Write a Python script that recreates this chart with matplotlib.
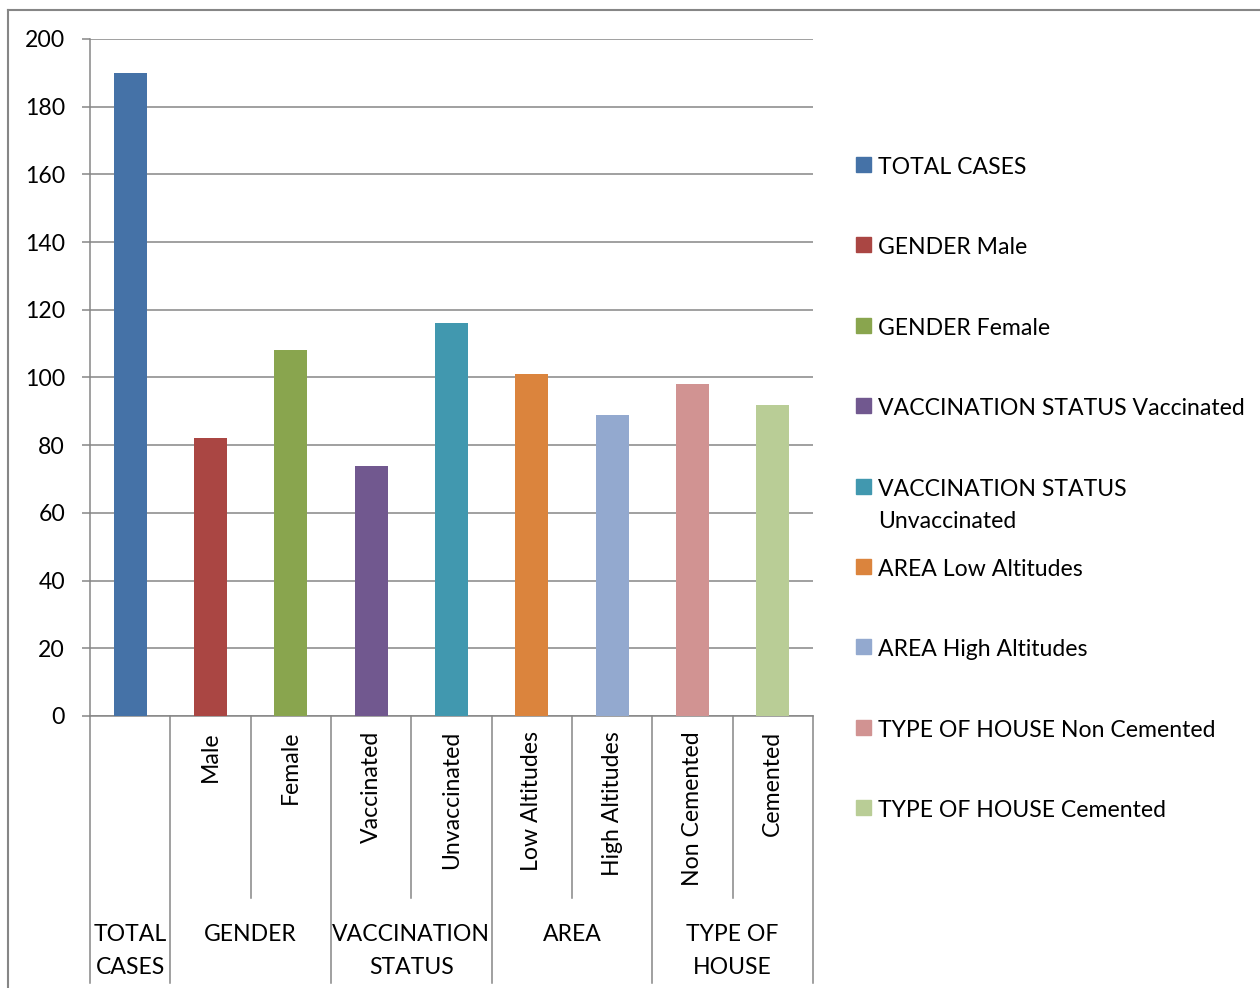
import matplotlib
matplotlib.use("Agg")
import matplotlib.pyplot as plt
from matplotlib.patches import Rectangle
from matplotlib.lines import Line2D

plt.rcParams['font.family'] = ['Lato', 'DejaVu Sans']

# data
groups = ['TOTAL\nCASES', 'GENDER', 'VACCINATION\nSTATUS', 'AREA', 'TYPE OF\nHOUSE']
group_sizes = [1, 2, 2, 2, 2]
subcats = ['', 'Male', 'Female', 'Vaccinated', 'Unvaccinated',
           'Low Altitudes', 'High Altitudes', 'Non Cemented', 'Cemented']
values = [190, 82, 108, 74, 116, 101, 89, 98, 92]
series_names = ['TOTAL CASES', 'GENDER Male', 'GENDER Female',
                'VACCINATION STATUS Vaccinated', 'VACCINATION STATUS\nUnvaccinated',
                'AREA Low Altitudes', 'AREA High Altitudes',
                'TYPE OF HOUSE Non Cemented', 'TYPE OF HOUSE Cemented']
colors = ['#4572A7', '#AA4643', '#89A54E', '#71588F', '#4198AF',
          '#DB843D', '#93A9CF', '#D19392', '#B9CD96']

W, H = 1260, 988
gray = '#868686'
fs = 16.6
ls = 1.7

fig = plt.figure(figsize=(W / 100, H / 100), dpi=100)
ax = fig.add_axes([90 / W, 1 - 716 / H, (813 - 90) / W, (716 - 39) / H])

for i, v in enumerate(values):
    ax.bar(i + 0.5, v, width=0.41, color=colors[i], zorder=3)

ax.set_xlim(0, len(values))
ax.set_ylim(0, 200)
ax.set_yticks(range(0, 201, 20))
ax.grid(axis='y', color=gray, linewidth=1.1, zorder=0)
ax.set_xticks([])
ax.tick_params(axis='y', length=6, width=1.1, color=gray, pad=12, labelsize=fs)
for s in ['top', 'right']:
    ax.spines[s].set_visible(False)
for s in ['left', 'bottom']:
    ax.spines[s].set_color(gray)
    ax.spines[s].set_linewidth(1.1)

# multi-level category axis
ah = 716 - 39
def fy(py):
    return (716 - py) / ah

bounds = [0]
for g in group_sizes:
    bounds.append(bounds[-1] + g)
for b in range(len(values) + 1):
    low = fy(983) if b in bounds else fy(898)
    ax.add_line(Line2D([b, b], [0, low], transform=ax.get_xaxis_transform(),
                       color=gray, linewidth=1.1, clip_on=False))
for i, lab in enumerate(subcats):
    if lab:
        ax.text(i + 0.5, fy(731), lab, transform=ax.get_xaxis_transform(),
                rotation=90, ha='center', va='top', fontsize=fs)
for gi, g in enumerate(groups):
    xc = (bounds[gi] + bounds[gi + 1]) / 2
    ax.text(xc, fy(924), g, transform=ax.get_xaxis_transform(),
            ha='center', va='top', fontsize=fs, linespacing=ls)

# legend
for i, name in enumerate(series_names):
    yc = 165 + i * 80.4
    fig.patches.append(Rectangle((856 / W, 1 - (yc + 7) / H), 15 / W, 15 / H,
                                 transform=fig.transFigure, color=colors[i]))
    fig.text(878 / W, 1 - (yc - 8) / H, name, ha='left', va='top',
             fontsize=fs, linespacing=ls)

# outer frame
fig.add_artist(Line2D([8 / W, 8 / W], [0, 1 - 10 / H], color=gray, linewidth=1.5,
                      transform=fig.transFigure))
fig.add_artist(Line2D([8 / W, 1], [1 - 10 / H, 1 - 10 / H], color=gray, linewidth=1.5,
                      transform=fig.transFigure))

fig.savefig('out.png', dpi=100)
